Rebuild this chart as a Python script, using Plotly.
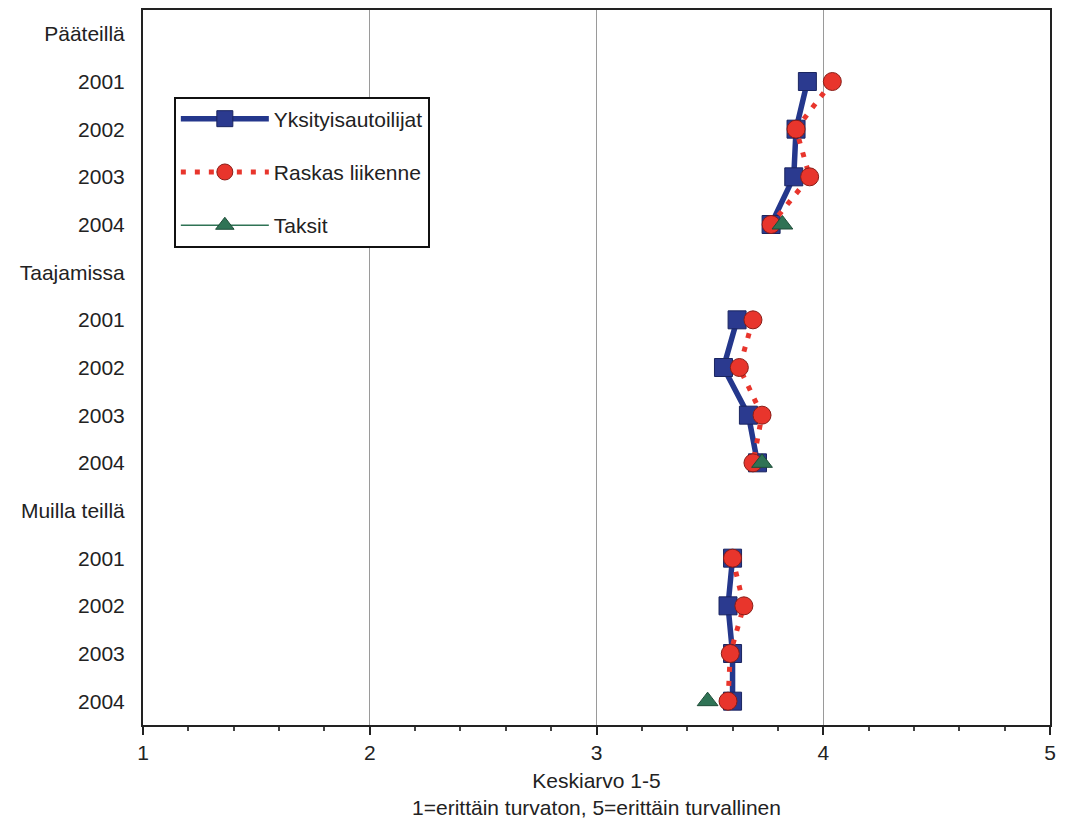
import plotly.graph_objects as go

row_labels = ["Pääteillä", "2001", "2002", "2003", "2004",
              "Taajamissa", "2001", "2002", "2003", "2004",
              "Muilla teillä", "2001", "2002", "2003", "2004"]

yksityis = [None, 3.93, 3.88, 3.87, 3.77,
            None, 3.62, 3.56, 3.67, 3.71,
            None, 3.60, 3.58, 3.60, 3.60]
raskas = [None, 4.04, 3.88, 3.94, 3.77,
          None, 3.69, 3.63, 3.73, 3.69,
          None, 3.60, 3.65, 3.59, 3.58]
taksit = [None, None, None, None, 3.82,
          None, None, None, None, 3.73,
          None, None, None, None, 3.49]

rows = list(range(len(row_labels)))

font = "Liberation Sans, Arial, sans-serif"
fig = go.Figure()

fig.add_trace(go.Scatter(
    x=yksityis, y=rows, name="Yksityisautoilijat", mode="lines+markers",
    line=dict(color="#24378C", width=5.5),
    marker=dict(symbol="square", size=18, color="#2B3A8F",
                line=dict(color="#1A2560", width=1)),
    connectgaps=False, legendgroup="a"))
fig.add_trace(go.Scatter(
    x=raskas, y=rows, name="Raskas liikenne", mode="lines+markers",
    line=dict(color="#E8352C", width=5, dash="5px,9px"),
    marker=dict(symbol="circle", size=18, color="#E8352C",
                line=dict(color="#8A1C16", width=1)),
    connectgaps=False, legendgroup="b"))
fig.add_trace(go.Scatter(
    x=taksit, y=rows, name="Taksit", mode="lines+markers",
    line=dict(color="#2F7355", width=1.5),
    marker=dict(symbol="triangle-up", size=18, color="#2F7355",
                line=dict(color="#1E4D38", width=1)),
    connectgaps=False, legendgroup="c"))

fig.update_layout(
    width=1049, height=815,
    margin=dict(l=135, r=7, t=0, b=98),
    paper_bgcolor="white", plot_bgcolor="white",
    font=dict(family=font, size=21, color="#222222"),
    legend=dict(x=0.034, y=0.879, xanchor="left", yanchor="top",
                bgcolor="white", bordercolor="#111111", borderwidth=2,
                font=dict(size=21), tracegroupgap=23, traceorder="grouped",
                itemwidth=88),
    xaxis=dict(range=[1, 5], dtick=1, tick0=1,
               showgrid=True, gridcolor="#9A9A9A", gridwidth=1,
               showline=True, linecolor="#222222", linewidth=2, mirror=True,
               ticks="outside", ticklen=8, tickcolor="#222222", tickwidth=1.5,
               minor=dict(dtick=0.2, ticks="outside", ticklen=4,
                          tickcolor="#444444", showgrid=False),
               zeroline=False,
               title=dict(text="Keskiarvo 1-5<br>1=erittäin turvaton, 5=erittäin turvallinen",
                          font=dict(size=21), standoff=10),
               tickfont=dict(size=21)),
    yaxis=dict(range=[14.5, -0.5], tickvals=rows, ticktext=row_labels,
               showgrid=False, zeroline=False,
               showline=True, linecolor="#222222", linewidth=2, mirror=True,
               ticks="", ticklabelstandoff=12, tickfont=dict(size=21)),
)

fig.write_html("out.html")
